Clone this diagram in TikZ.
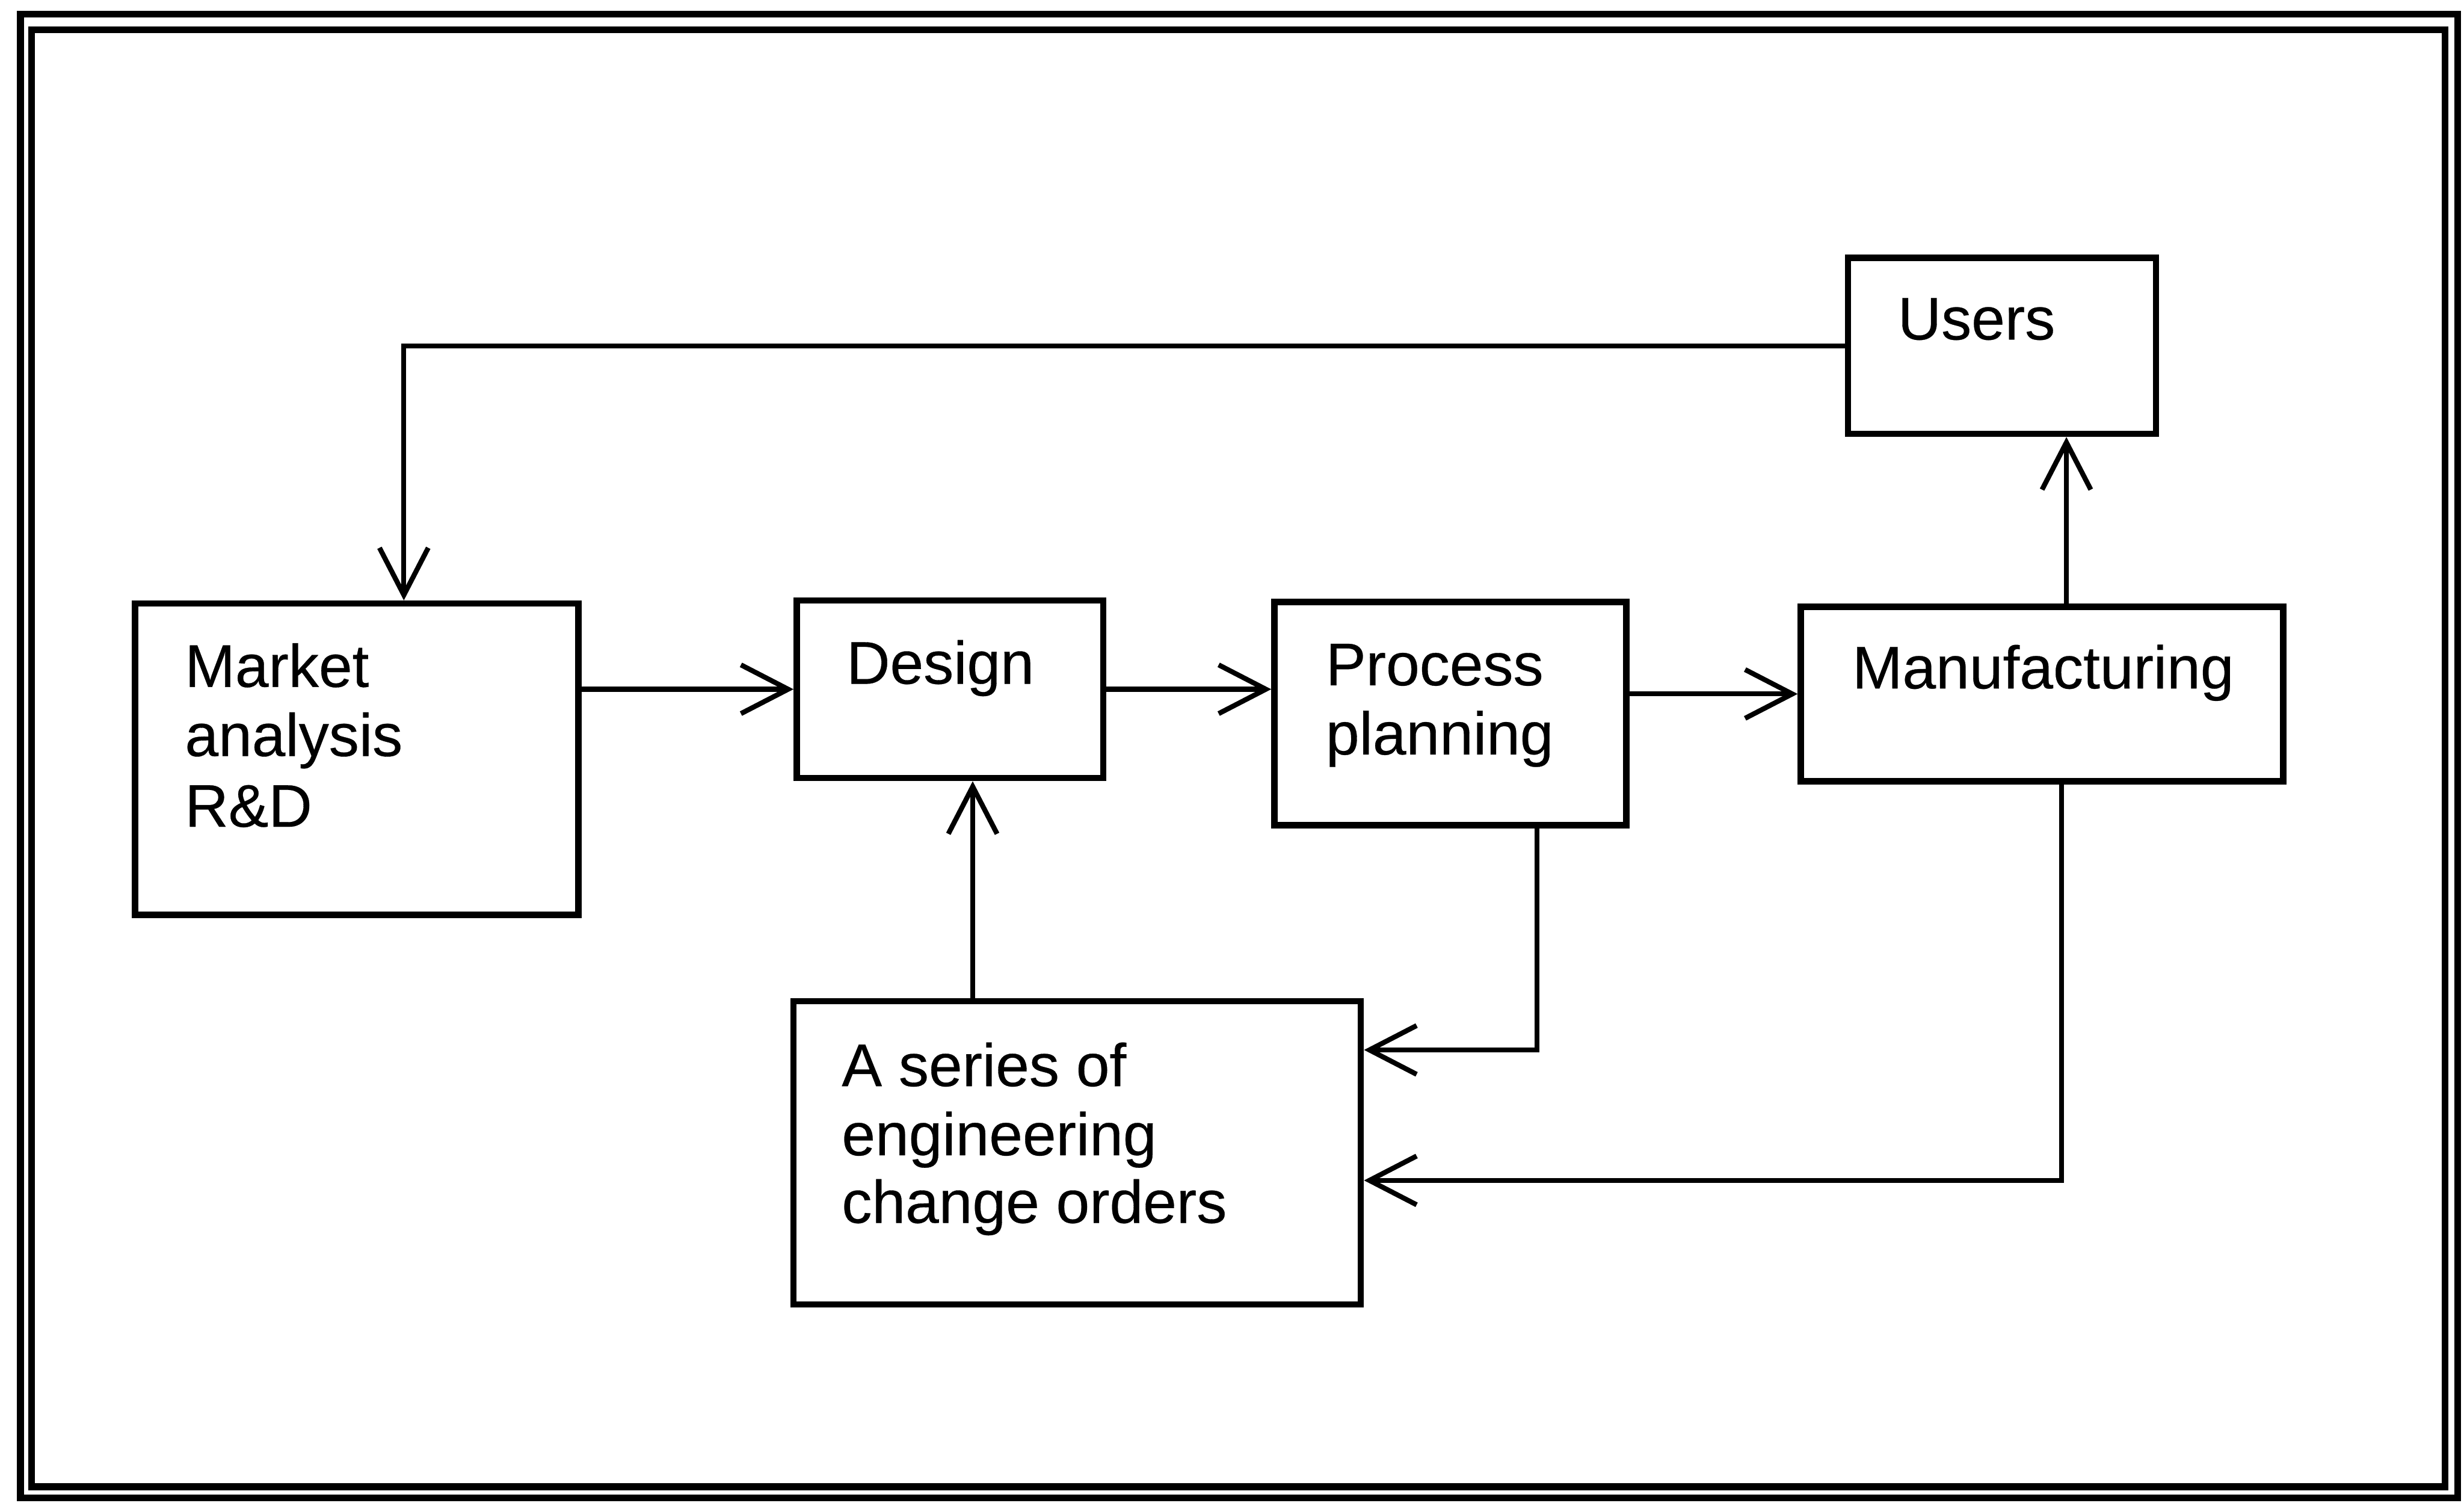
\documentclass[tikz,border=0pt]{standalone}
\usepackage{fontspec}
\setmainfont{Liberation Sans}[FakeBold=0.3]
\usetikzlibrary{arrows.meta,fit}
\begin{document}
\begin{tikzpicture}[x=0.01cm,y=-0.01cm,
  framestyle/.style={line width=1.25pt},
  box/.style={draw,line width=1.15pt,inner sep=0pt,rectangle},
  lbl/.style={inner sep=0pt,anchor=base west,font=\fontsize{10.9pt}{12.8pt}\selectfont},
  link/.style={line width=0.9pt},
  arr/.style={link,-{Straight Barb[length=3mm,width=3.1mm]}}]
\useasboundingbox (0,0) rectangle (1568,956);

% double frame
\draw[framestyle] (13,9) rectangle (1564,953);
\draw[framestyle] (20,19) rectangle (1556,946);

% boxes
\node[box,fit={(86,384) (368,582)}] (mkt) {};
\node[box,fit={(507,382) (702,495)}] (des) {};
\node[box,fit={(811,383) (1035,525)}] (proc) {};
\node[box,fit={(1146,386) (1453,497)}] (mfg) {};
\node[box,fit={(1176,164) (1372,276)}] (users) {};
\node[box,fit={(505,637) (866,830)}] (eco) {};

% labels
\node[lbl] (mkt1) at (117,437) {Market};
\node[lbl] (mkt2) at (117,481) {analysis};
\node[lbl] (mkt3) at (117,526) {R\&D};
\node[lbl] (des1) at (538,435) {Design};
\node[lbl] (proc1) at (843,436) {Process};
\node[lbl] (proc2) at (843,480) {planning};
\node[lbl] (mfg1) at (1178,438) {Manufacturing};
\node[lbl] (users1) at (1207,216) {Users};
\node[lbl] (eco1) at (535,691) {A series of};
\node[lbl] (eco2) at (535,735) {engineering};
\node[lbl] (eco3) at (535,778) {change orders};

% routing guides
\coordinate (xfb) at (257,0);
\coordinate (xup) at (1315,0);
\coordinate (xeco) at (619,0);
\coordinate (xpp) at (978,0);
\coordinate (ypp) at (0,668);
\coordinate (xmf) at (1312,0);
\coordinate (ymf) at (0,751);

% connectors
\draw[arr] (mkt.east |- des.west) -- (des.west);
\draw[arr] (des.east) -- (des.east -| proc.west);
\draw[arr] (proc.east |- mfg.west) -- (mfg.west);
\draw[arr] (mfg.north -| xup) -- (users.south -| xup);
\draw[arr] (users.west) -- (users.west -| xfb) -- (mkt.north -| xfb);
\draw[arr] (eco.north -| xeco) -- (des.south -| xeco);
\draw[arr] (proc.south -| xpp) -- (xpp |- ypp) -- (eco.east |- ypp);
\draw[arr] (mfg.south -| xmf) -- (xmf |- ymf) -- (eco.east |- ymf);
\end{tikzpicture}
\end{document}
